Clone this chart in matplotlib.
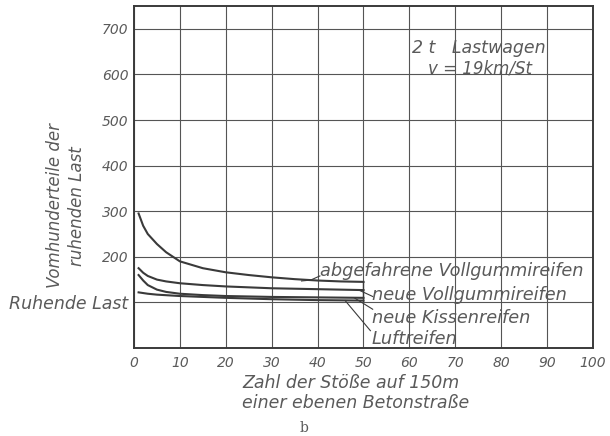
import matplotlib.pyplot as plt

# Zahl der Stöße
x_abg = [1, 2, 3, 5, 7, 10, 15, 20, 25, 30, 35, 40, 45, 50]
y_abg = [295, 268, 250, 228, 210, 190, 175, 166, 160, 155, 151, 148, 146, 145]

x_voll = [1, 2, 3, 5, 7, 10, 15, 20, 30, 40, 50]
y_voll = [175, 165, 158, 150, 146, 142, 138, 135, 131, 129, 127]

x_kissen = [1, 2, 3, 5, 7, 10, 15, 20, 30, 40, 50]
y_kissen = [160, 148, 138, 128, 123, 119, 116, 114, 112, 111, 110]

x_luft = [1, 3, 5, 10, 20, 30, 40, 50]
y_luft = [122, 119, 117, 114, 110, 107, 105, 104]

x_ticks = [0, 10, 20, 30, 40, 50, 60, 70, 80, 90, 100]
y_ticks = [100, 200, 300, 400, 500, 600, 700]
y_ticklabels = ["Ruhende Last", "200", "300", "400", "500", "600", "700"]

INK = "#3a3a3a"
TXT = "#5a5a5a"
FONT = dict(family="DejaVu Sans", style="italic", color=TXT)

fig = plt.figure(figsize=(6.1, 4.36), dpi=100)
ax = fig.add_axes([134 / 610, 1 - 348 / 436, (593 - 134) / 610, (348 - 6) / 436])

ax.set_xlim(0, 100)
ax.set_ylim(0, 750)
ax.set_xticks(x_ticks)
ax.set_yticks(y_ticks)
ax.set_xticklabels([str(v) for v in x_ticks], fontsize=10, **FONT)
ax.set_yticklabels(y_ticklabels, fontsize=10, **FONT)
ax.get_yticklabels()[0].set_fontsize(12.5)
ax.tick_params(length=0, pad=6)
ax.tick_params(axis="y", pad=4)
ax.grid(True, color="#555555", linewidth=0.8)
ax.set_axisbelow(True)
for s in ax.spines.values():
    s.set_linewidth(1.4)
    s.set_color(INK)

for xs, ys in [(x_abg, y_abg), (x_voll, y_voll), (x_kissen, y_kissen), (x_luft, y_luft)]:
    ax.plot(xs, ys, color=INK, linewidth=1.5)

# short stroke joining the curve ends at x = 50
ax.plot([x_abg[-1], x_luft[-1]], [y_abg[-1], y_luft[-1]], color=INK, linewidth=1.0)

# labels with leader lines
LBL = 12.8
ax.text(40.5, 168, "abgefahrene Vollgummireifen", fontsize=LBL, va="center", **FONT)
ax.plot([36.5, 38.5, 40.5], [147, 149, 158], color=INK, linewidth=0.8)
ax.text(51.8, 116, "neue Vollgummireifen", fontsize=LBL, va="center", **FONT)
ax.plot([49, 52], [127, 113], color=INK, linewidth=0.8)
ax.text(51.8, 66, "neue Kissenreifen", fontsize=LBL, va="center", **FONT)
ax.plot([48, 52], [110, 85], color=INK, linewidth=0.8)
ax.text(51.8, 20, "Luftreifen", fontsize=LBL, va="center", **FONT)
ax.plot([46, 51.5], [104, 38], color=INK, linewidth=0.8)

ax.text(60.5, 658, "2 t   Lastwagen", fontsize=12.5, va="center", **FONT)
ax.text(64, 612, "v = 19km/St", fontsize=12, va="center", **FONT)

fig.text(66 / 610, 1 - 206 / 436, "Vomhunderteile der\nruhenden Last", fontsize=12,
         rotation=90, ha="center", va="center", linespacing=1.25, **FONT)
fig.text(242 / 610, 1 - 393 / 436, "Zahl der Stöße auf 150m\neiner ebenen Betonstraße",
         fontsize=12.5, ha="left", va="center", linespacing=1.2, **FONT)
fig.text(304 / 610, 1 - 428 / 436, "b", fontsize=10, family="DejaVu Serif",
         color=TXT, ha="center", va="center")

fig.savefig("out.png", dpi=100)
